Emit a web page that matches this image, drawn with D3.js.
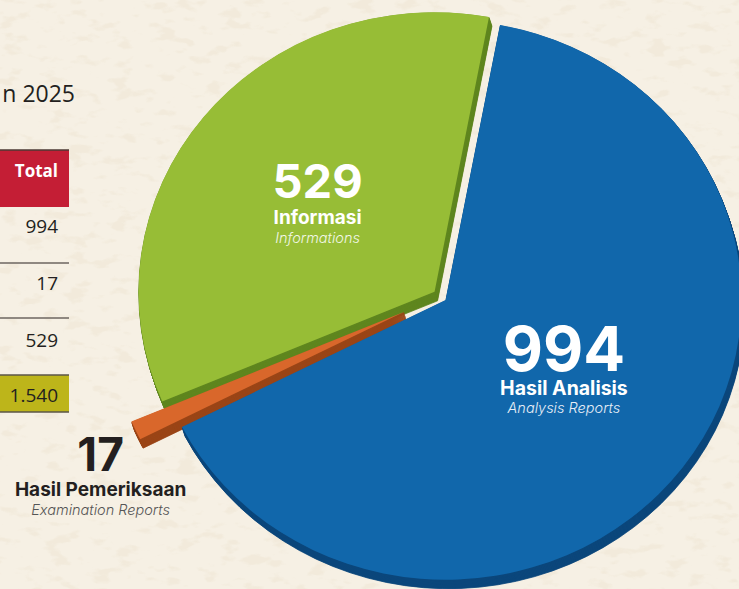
<!DOCTYPE html>
<html><head><meta charset="utf-8">
<script src="https://cdn.jsdelivr.net/npm/d3@7"></script>
<style>
html,body{margin:0;padding:0;background:#f5efe3;overflow:hidden}
svg{display:block}
</style></head><body>
<svg id="chart" width="739" height="589"></svg>
<script>
// ---- data ----
const categories = ["Hasil Analisis", "Hasil Pemeriksaan", "Informasi"];
const categoriesEn = ["Analysis Reports", "Examination Reports", "Informations"];
const values = [994, 17, 529];
const titleText = "n 2025";
const tableHeader = "Total";

// ---- style / layout ----
const topColors  = ["#1167ab", "#d9672b", "#97bd36"];
const sideColors = ["#0b477b", "#9a4517", "#5f861f"];
const explode = [7, 40, 7];
const W = 739, H = 589;
const cx = 440, cy = 296, R = 296, tilt = 0.945;
const DX = 3, DY = 9, LAYERS = 12;
const startDeg = 10.6;

const loc = d3.formatLocale({decimal: ",", thousands: ".", grouping: [3], currency: ["Rp", ""]});
const fmt = loc.format(",d");

const svg = d3.select("#chart");
const defs = svg.append("defs");
const f = defs.append("filter").attr("id", "tex").attr("x", 0).attr("y", 0).attr("width", "100%").attr("height", "100%");
f.append("feTurbulence").attr("type", "fractalNoise").attr("baseFrequency", "0.045 0.09").attr("numOctaves", 3).attr("seed", 7);
f.append("feColorMatrix").attr("type", "matrix")
  .attr("values", "0 0 0 0 0.86  0 0 0 0 0.79  0 0 0 0 0.66  7 0 0 0 -3.9");

svg.append("rect").attr("width", W).attr("height", H).attr("fill", "#f6f0e4");
svg.append("rect").attr("width", W).attr("height", H).attr("filter", "url(#tex)").attr("opacity", 0.55);

// ---- title fragment ----
svg.append("text").attr("x", 75).attr("y", 102).attr("text-anchor", "end")
  .attr("font-family", "Open Sans").attr("font-size", 23).attr("fill", "#231f20").text(titleText);

// ---- table ----
const tbl = svg.append("g");
const tx0 = -10, tx1 = 69, tRight = 58;
tbl.append("rect").attr("x", tx0).attr("y", 150).attr("width", tx1 - tx0).attr("height", 57).attr("fill", "#c41e35");
tbl.append("line").attr("x1", tx0).attr("x2", tx1).attr("y1", 150).attr("y2", 150).attr("stroke", "#4b3a35").attr("stroke-width", 1.5);
tbl.append("text").attr("x", tRight).attr("y", 177).attr("text-anchor", "end")
  .attr("font-family", "Open Sans").attr("font-weight", 700).attr("font-size", 17).attr("fill", "#fff").text(tableHeader);
const rowBase = [233, 290, 347];
const rowLines = [263, 318];
values.forEach((v, i) => {
  tbl.append("text").attr("x", tRight).attr("y", rowBase[i]).attr("text-anchor", "end")
    .attr("font-family", "Open Sans").attr("font-size", 19).attr("fill", "#231f20").text(fmt(v));
});
rowLines.forEach(y => tbl.append("line").attr("x1", tx0).attr("x2", tx1).attr("y1", y).attr("y2", y)
  .attr("stroke", "#6d6661").attr("stroke-width", 1.3));
tbl.append("rect").attr("x", tx0).attr("y", 375).attr("width", tx1 - tx0).attr("height", 37).attr("fill", "#bdb51a");
[375, 412].forEach(y => tbl.append("line").attr("x1", tx0).attr("x2", tx1).attr("y1", y).attr("y2", y)
  .attr("stroke", "#5b5648").attr("stroke-width", 1.3));
tbl.append("text").attr("x", tRight).attr("y", 402).attr("text-anchor", "end")
  .attr("font-family", "Open Sans").attr("font-size", 19).attr("fill", "#231f20").text(fmt(d3.sum(values)));

// ---- 3D pie ----
const a0 = startDeg * Math.PI / 180;
const pie = d3.pie().sort(null).value(d => d).startAngle(a0).endAngle(a0 + 2 * Math.PI);
const arcs = pie(values);
const arc = d3.arc().innerRadius(0).outerRadius(R);

function origin(d, i) {
  const a = (d.startAngle + d.endAngle) / 2;
  return [cx + Math.sin(a) * explode[i], cy - Math.cos(a) * explode[i] * tilt];
}

const drawOrder = [2, 1, 0];
const pieG = svg.append("g");
drawOrder.forEach(i => {
  const d = arcs[i];
  const [ox, oy] = origin(d, i);
  const g = pieG.append("g").attr("transform", `translate(${ox},${oy})`);
  for (let k = LAYERS; k >= 1; k--) {
    g.append("path").attr("transform", `translate(${DX * k / LAYERS},${DY * k / LAYERS}) scale(1,${tilt})`)
      .attr("d", arc(d)).attr("fill", sideColors[i]).attr("stroke", sideColors[i]).attr("stroke-width", 0.8);
  }
  g.append("path").attr("transform", `scale(1,${tilt})`).attr("d", arc(d)).attr("fill", topColors[i]);
});

// ---- labels ----
function pointAt(d, i, r) {
  const a = (d.startAngle + d.endAngle) / 2;
  const [ox, oy] = origin(d, i);
  return [ox + Math.sin(a) * r, oy - Math.cos(a) * r * tilt];
}
const labelCfg = [
  {r: 144, nx: 3, ny: -5, num: 62, name: 19.5, en: 14.5, dyNum: -5, dyName: 19, dyEn: 37, col: "#fff", enCol: "#e6eef7"},
  {r: R, nx: -35, ny: 8, num: 46, name: 19, en: 14.5, dyNum: 33, dyName: 58, dyEn: 77, col: "#231f20", enCol: "#555"},
  {r: 150, nx: 0, ny: 0, num: 47, name: 19, en: 14.5, dyNum: -5, dyName: 21, dyEn: 40, col: "#fff", enCol: "#f2f7e6"}
];
const lab = svg.append("g").attr("font-family", "Inter").attr("text-anchor", "middle");
arcs.forEach((d, i) => {
  const c = labelCfg[i];
  const [px, py] = pointAt(d, i, c.r);
  const x = px + c.nx, y = py + c.ny;
  lab.append("text").attr("x", x).attr("y", y + c.dyNum).attr("font-size", c.num).attr("font-weight", 700)
    .attr("fill", c.col).text(fmt(d.data));
  lab.append("text").attr("x", x).attr("y", y + c.dyName).attr("font-size", c.name).attr("font-weight", 700)
    .attr("fill", c.col).text(categories[i]);
  lab.append("text").attr("x", x).attr("y", y + c.dyEn).attr("font-size", c.en).attr("font-weight", 300)
    .attr("font-style", "italic").attr("fill", c.enCol).text(categoriesEn[i]);
});
</script>
</body></html>
